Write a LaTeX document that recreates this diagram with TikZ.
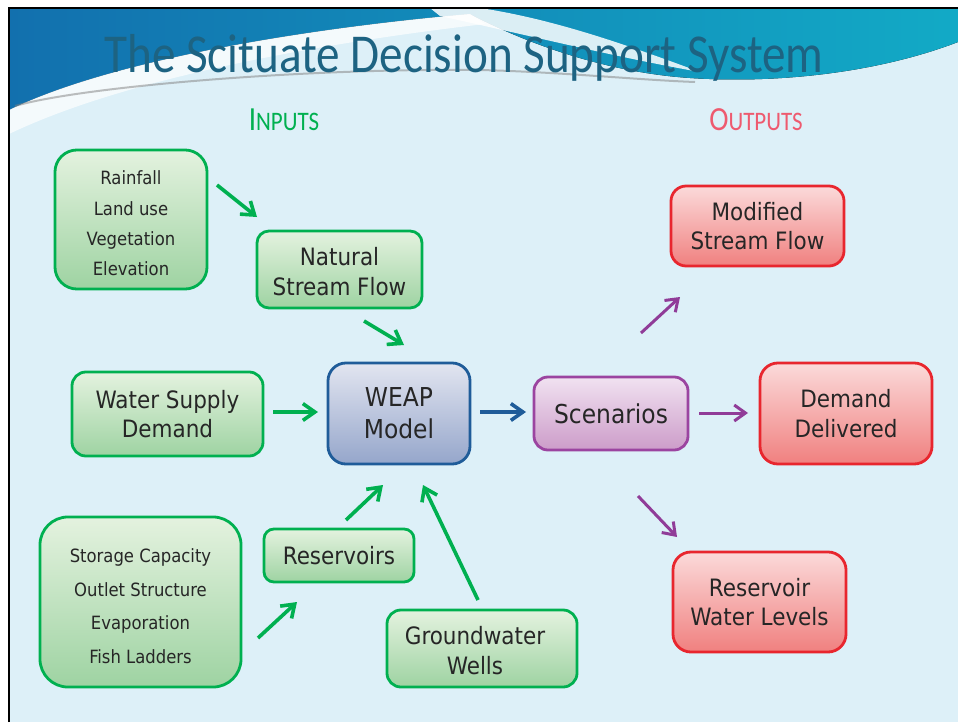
\documentclass[tikz,border=0pt]{standalone}
\usepackage{fontspec}
\usepackage{graphicx}
\usetikzlibrary{positioning,arrows.meta}
\IfFontExistsTF{DejaVu Sans Condensed}{\setmainfont{DejaVu Sans Condensed}}{\setmainfont{DejaVu Sans}}
\newfontfamily\titlefont{Carlito}

\definecolor{pagebg}{HTML}{DDF0F8}
\definecolor{hdblue}{HTML}{1270AE}
\definecolor{hdteal}{HTML}{12AAC6}
\definecolor{titlecol}{HTML}{1D6382}
\definecolor{txt}{HTML}{262626}
\definecolor{ingreen}{HTML}{00B050}
\definecolor{intop}{HTML}{E4F2DF}
\definecolor{inbot}{HTML}{9ED3A2}
\definecolor{weapline}{HTML}{1F5C99}
\definecolor{weaptop}{HTML}{E2E5F0}
\definecolor{weapbot}{HTML}{95A6CB}
\definecolor{scenline}{HTML}{9B44A0}
\definecolor{scentop}{HTML}{F1E2F1}
\definecolor{scenbot}{HTML}{CC9CC9}
\definecolor{outred}{HTML}{E8262E}
\definecolor{outtop}{HTML}{FBDADA}
\definecolor{outbot}{HTML}{F0807F}
\definecolor{outlabel}{HTML}{EE5A6F}
\definecolor{purparrow}{HTML}{903C98}

\begin{document}
\begin{tikzpicture}[x=0.025cm,y=-0.025cm,
  box/.style={line width=0.07cm, align=center, inner sep=0pt, text=txt,
    font=\fontsize{17}{21}\selectfont},
  inbox/.style={box, draw=ingreen, top color=intop, bottom color=inbot},
  listbox/.style={inbox, font=\fontsize{13}{21.5}\selectfont},
  weapbox/.style={box, draw=weapline, top color=weaptop, bottom color=weapbot,
    font=\fontsize{18.5}{23}\selectfont},
  scenbox/.style={box, draw=scenline, top color=scentop, bottom color=scenbot,
    font=\fontsize{18.5}{23}\selectfont},
  outbox/.style={box, draw=outred, top color=outtop, bottom color=outbot},
  garrow/.style={-{Straight Barb[length=0.3cm,width=0.42cm]}, line width=0.09cm, draw=ingreen},
  barrow/.style={garrow, draw=weapline},
  parrow/.style={-{Straight Barb[length=0.28cm,width=0.4cm]}, line width=0.075cm, draw=purparrow},
  head/.style={font=\titlefont, inner sep=0pt}]

\useasboundingbox (0,0) rectangle (958,722);

% slide background and header band
\fill[white] (0,0) rectangle (958,722);
\fill[pagebg] (9,8) rectangle (958,722);
\fill[left color=hdblue, right color=hdteal] (9,8) -- (958,8) -- (958,42)
  .. controls (880,72) and (780,84) .. (690,78)
  .. controls (600,72) and (520,40) .. (470,14)
  .. controls (330,26) and (120,56) .. (9,110) -- cycle;
\fill[white, opacity=0.7] (9,110) .. controls (120,56) and (330,26) .. (470,14)
  -- (485,24) .. controls (330,42) and (130,76) .. (9,134) -- cycle;
\fill[white, opacity=0.85] (430,8) -- (480,8) .. controls (560,20) and (640,50) .. (700,72)
  .. controls (620,58) and (540,38) .. (440,16) -- cycle;
\draw[gray, opacity=0.5, line width=0.05cm] (15,106) .. controls (80,87) and (300,68) .. (480,70)
  .. controls (560,72) and (640,80) .. (695,82);
\draw[black, line width=0.06cm] (9,722) -- (9,8) -- (958,8);

% titles
\node[head, text=titlecol] (title) at (464,58)
  {\scalebox{0.86}[1]{\fontsize{39}{39}\selectfont The Scituate Decision Support System}};
\node[head, text=ingreen] (inputs) at (284,120)
  {\scalebox{0.86}[1]{\fontsize{24}{24}\selectfont I\fontsize{19}{19}\selectfont NPUTS}};
\node[head, text=outlabel] (outputs) at (756,120)
  {\scalebox{0.86}[1]{\fontsize{24}{24}\selectfont O\fontsize{19}{19}\selectfont UTPUTS}};

% input boxes
\node[listbox, minimum width=3.8cm, minimum height=3.475cm, rounded corners=0.55cm]
  (rain) at (131,219.5) {\rule{0pt}{15.5pt}Rainfall\\Land use\\Vegetation\\Elevation};
\node[inbox, minimum width=4.125cm, minimum height=1.925cm, rounded corners=0.3cm]
  (nat) at (339.5,269.5) {\rule{0pt}{16pt}Natural\\Stream Flow};
\node[inbox, minimum width=4.775cm, minimum height=2.1cm, rounded corners=0.35cm]
  (water) at (167.5,414) {Water Supply\\Demand};
\node[listbox, minimum width=5.025cm, minimum height=4.25cm, rounded corners=0.7cm,
  font=\fontsize{13}{21}\selectfont]
  (stor) at (140.5,602) {\rule{0pt}{16pt}Storage Capacity\\[0.1cm]Outlet Structure\\[0.1cm]Evaporation\\[0.1cm]Fish Ladders};
\node[inbox, minimum width=3.75cm, minimum height=1.325cm, rounded corners=0.25cm]
  (res) at (339,555.5) {Reservoirs};
\node[inbox, minimum width=4.75cm, minimum height=1.925cm, rounded corners=0.35cm]
  (gw) at (482,648.5) {\hspace*{-0.35cm}\rule{0pt}{16pt}Groundwater\\\hspace*{-0.35cm}Wells};

% model and scenarios
\node[weapbox, minimum width=3.55cm, minimum height=2.525cm, rounded corners=0.45cm]
  (weap) at (399,413.5) {WEAP\\Model};
\node[scenbox, minimum width=3.85cm, minimum height=1.825cm, rounded corners=0.35cm]
  (scen) at (611,413.5) {Scenarios};

% output boxes
\node[outbox, minimum width=4.325cm, minimum height=2cm, rounded corners=0.38cm]
  (mod) at (757.5,226) {Modified\\Stream Flow};
\node[outbox, minimum width=4.3cm, minimum height=2.525cm, rounded corners=0.45cm]
  (dem) at (846,413.5) {Demand\\Delivered};
\node[outbox, minimum width=4.325cm, minimum height=2.5cm, rounded corners=0.45cm]
  (rwl) at (759.5,602) {Reservoir\\Water Levels};

% arrow ends
\coordinate (rainout) at (217,185);   \coordinate (natin) at (257,217);
\coordinate (natout) at (364,321);    \coordinate (weapn) at (404,345);
\coordinate (waterout) at (273,412);  \coordinate (weapw) at (318,412);
\coordinate (resout) at (346,520);    \coordinate (weapsw) at (383,485);
\coordinate (storout) at (258,638);   \coordinate (resin) at (297,602);
\coordinate (gwout) at (478,600);     \coordinate (weapse) at (423,485);
\coordinate (weapout) at (480,412);   \coordinate (scenin) at (526,412);
\coordinate (scenne) at (641,333);    \coordinate (modin) at (680,297);
\coordinate (scene) at (699,413);     \coordinate (demin) at (748,413);
\coordinate (scense) at (638,496);    \coordinate (rwlin) at (677,537);

\foreach \s/\e in {rainout/natin, natout/weapn, waterout/weapw,
                   resout/weapsw, storout/resin, gwout/weapse}
  \draw[garrow] (\s) -- (\e);
\draw[barrow] (weapout) -- (scenin);
\foreach \s/\e in {scenne/modin, scene/demin, scense/rwlin}
  \draw[parrow] (\s) -- (\e);

\end{tikzpicture}
\end{document}
